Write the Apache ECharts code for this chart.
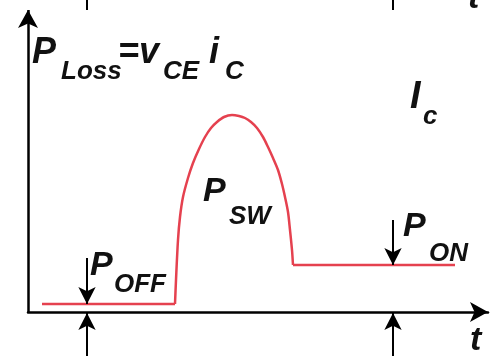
<!DOCTYPE html>
<html>
<head>
<meta charset="utf-8">
<style>
  html, body { margin: 0; padding: 0; background: #fff; }
  #chart { width: 490px; height: 356px; }
</style>
<script src="https://cdn.jsdelivr.net/npm/echarts@6/dist/echarts.min.js"></script>
</head>
<body>
<div id="chart"></div>
<script>
// waveform (x = time, y = loss power, arbitrary units)
var offX = [14, 147];
var offY = [8, 8];
var swX = [147, 148, 150, 152, 155, 160, 165, 171, 177, 183, 189, 196, 204, 211, 217, 223, 229, 235, 240, 245, 250, 254, 257, 260, 262, 264, 265];
var swY = [8, 32, 72, 95, 115, 134, 149, 163, 175, 184, 190, 195, 197, 196, 194, 190, 184, 175, 165, 154, 142, 128, 115, 100, 82, 62, 47];
var onX = [265, 427];
var onY = [47, 47];

// y axis (power) drawn as an arrow from 0 up to yTop
var yTop = 302;

// arrows: [x, yFrom, yTo]
var downArrows = [[59, 54, 8], [365, 92, 47]];
var upArrows = [[59, -44, -1], [365, -44, -1]];
// cut-off marks of the plot above
var topTicks = [[59, 312, 302], [365, 312, 302]];

var red = '#e5414f';
var font = 'Liberation Sans';

function pairs(xs, ys) {
  return xs.map(function (x, i) { return [x, ys[i]]; });
}

function seg(list) {
  return list.map(function (a) {
    return [{ coord: [a[0], a[1]] }, { coord: [a[0], a[2]] }];
  });
}

function txt(str, x, y, size) {
  return {
    type: 'text',
    x: x,
    y: y,
    silent: true,
    style: {
      text: str,
      fill: '#111',
      font: 'italic bold ' + size + 'px "' + font + '"',
      verticalAlign: 'middle'
    }
  };
}

function marks(data, symbol, size, width) {
  return {
    type: 'line', data: [], clip: false, silent: true,
    markLine: {
      silent: true,
      symbol: symbol,
      symbolSize: size,
      label: { show: false },
      lineStyle: { color: '#000', width: width, type: 'solid' },
      data: data
    }
  };
}

var chart = echarts.init(document.getElementById('chart'));

var option = {
  animation: false,
  grid: { left: 28, right: 2, top: 0, bottom: 0 },
  xAxis: {
    type: 'value', min: 0, max: 460,
    axisLine: {
      show: true,
      onZero: true,
      symbol: ['none', 'arrow'],
      symbolSize: [15, 18],
      lineStyle: { color: '#000', width: 2.5 }
    },
    axisTick: { show: false },
    axisLabel: { show: false },
    splitLine: { show: false }
  },
  yAxis: {
    type: 'value', min: -44, max: 312,
    axisLine: { show: false },
    axisTick: { show: false },
    axisLabel: { show: false },
    splitLine: { show: false }
  },
  series: [
    {
      type: 'line', data: pairs(offX, offY), showSymbol: false,
      lineStyle: { color: red, width: 2.5 }, silent: true
    },
    {
      type: 'line', data: pairs(swX, swY), showSymbol: false, smooth: 0.3,
      lineStyle: { color: red, width: 2.5 }, silent: true
    },
    {
      type: 'line', data: pairs(onX, onY), showSymbol: false,
      lineStyle: { color: red, width: 2.5 }, silent: true
    },
    marks(seg([[0, 0, yTop]]), ['none', 'arrow'], [15, 18], 2.5),
    marks(seg(downArrows).concat(seg(upArrows)), ['none', 'arrow'], [13, 17], 2),
    marks(seg(topTicks), ['none', 'none'], 0, 2)
  ],
  graphic: [
    txt('P', 32, 53, 36),
    txt('Loss', 61, 71.5, 26),
    txt('=v', 118, 53, 36),
    txt('CE', 163, 71.5, 26),
    txt('i', 209, 53, 36),
    txt('C', 225, 71.5, 26),
    txt('I', 410, 97.5, 38),
    txt('c', 423, 116.5, 26),
    txt('P', 203, 192, 34),
    txt('SW', 229, 216.5, 26),
    txt('P', 90, 266, 34),
    txt('OFF', 114, 284.5, 26),
    txt('P', 403, 227, 34),
    txt('ON', 429, 253.5, 26),
    txt('t', 470, 341, 34),
    txt('t', 468, -1, 34)
  ]
};

chart.setOption(option);
</script>
</body>
</html>
